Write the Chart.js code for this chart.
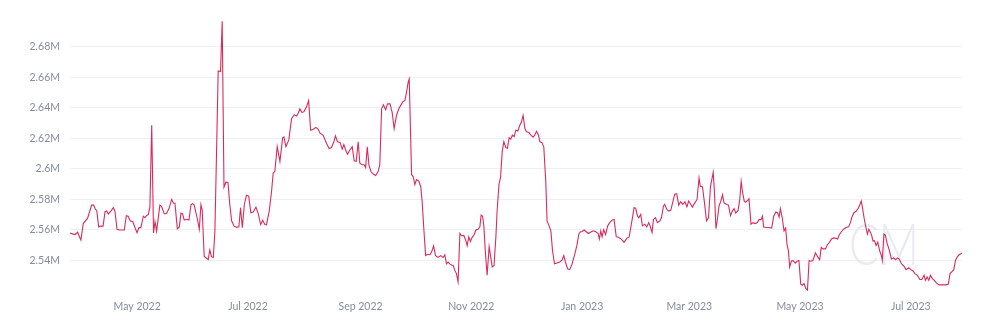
<!DOCTYPE html>
<html lang="en">
<head>
    <meta charset="UTF-8">
    <title>Line chart</title>
    <script src="https://cdn.jsdelivr.net/npm/chart.js"></script>
    <style>
        html, body { margin: 0; padding: 0; background: #fff; }
        #wrap { width: 981px; height: 331px; position: relative; }
    </style>
</head>
<body>
<div id="wrap"><canvas id="chart"></canvas></div>

<script>
    // days since 2022-03-25, values in millions
    const days = [
        0, 0.9, 2.75, 4.2, 5, 6, 7.3, 9.7, 11.9, 13, 14.1, 14.7, 15.8, 16.7, 18.2, 19.3, 20.2, 21.1, 22.6, 23.9,
        24.8, 25.9, 27.5, 29.9, 31, 32, 33.2, 34.5, 36.9, 38, 39, 40.4, 41.3, 42.2, 43.1, 44, 45, 46, 46.8, 47.7,
        49.5, 50.4, 51.9, 53.1, 54.5, 56, 57, 57.8, 59.1, 60.2, 61.1, 62, 62.9, 64.2, 65.5, 66.6, 67.5, 68.3, 70, 71.2,
        72.1, 72.8, 73.9, 75.2, 76.1, 77, 77.9, 78.9, 79.8, 80.7, 81.6, 82.9, 83.8, 84.8, 85.9, 87, 88, 89, 90.3, 91.8,
        93, 93.9, 94.9, 96, 97.2, 98.4, 99.6, 100.9, 102.4, 103.7, 105, 106.1, 107.3, 108.2, 109.7, 111, 111.9, 112.8, 114.1, 115.6,
        117.1, 117.8, 118.9, 120.5, 122, 123.5, 124.8, 125.7, 126.6, 127.7, 128.8, 130.2, 131.4, 132.5, 134, 135.4, 136.7, 137.6, 139.4, 141.3,
        142.7, 144, 145.3, 146.2, 147.3, 148.7, 149.9, 150.8, 151.9, 152.8, 154.1, 155.4, 156.5, 157.6, 158.7, 159.6, 160.9, 162, 162.8, 163.7,
        164.6, 165.7, 167, 168.3, 169.7, 170.6, 171.6, 172.6, 173.8, 174.9, 176.2, 177.4, 178.5, 179.8, 181.1, 182.2, 183.3, 184.4, 185.3, 186.2,
        186.8, 188.1, 189, 189.9, 190.8, 192.1, 193.2, 193.9, 194.8, 195.8, 196.9, 198.2, 199.1, 200.2, 201.3, 202.7, 204.1, 205.5, 206.4, 207.3,
        208.2, 209.1, 210.1, 211, 211.9, 212.8, 213.7, 214.7, 215.6, 216.9, 218, 218.7, 219.6, 220.5, 221.4, 222.6, 223.5, 224.8, 225.7, 226.4,
        227.2, 227.9, 228.8, 229.7, 230.8, 231.7, 232.5, 233.5, 234.5, 235.2, 236.2, 237.1, 238, 238.9, 240, 240.9, 241.8, 242.7, 243.6, 244.6,
        245.5, 246.6, 247.7, 248.6, 249.5, 250.5, 251.4, 252.7, 253.8, 255, 255.9, 256.9, 258, 258.7, 259.8, 260.9, 262, 262.7, 263.8, 264.8,
        265.7, 266.8, 268.2, 269.7, 271, 271.9, 272.8, 274, 275.2, 276.5, 278, 279.1, 280.2, 280.9, 282, 283.1, 284.2, 285.4, 286.8, 288.1,
        289.4, 290.8, 291.5, 292.3, 293, 293.9, 294.9, 296.1, 297.2, 298.5, 299.6, 300.8, 302.2, 303.6, 305.1, 306.6, 307.9, 308.8, 309.9, 310.6,
        311.5, 312.5, 313.2, 314.3, 315.2, 316.5, 317.6, 318.7, 319.6, 320.5, 321.3, 322.4, 323.5, 324.8, 325.7, 326.8, 327.5, 328.6, 329.7, 330.8,
        331.9, 333, 334.1, 335.2, 336.3, 337.4, 338.6, 339.7, 340.7, 341.8, 342.7, 344, 345.3, 346.4, 347.1, 348.3, 349.5, 350.5, 351.6, 352.7,
        354.2, 354.9, 355.7, 356.5, 357.4, 358.4, 359.3, 360.2, 361.5, 362.6, 363.7, 364.8, 365.7, 366.6, 367.9, 368.8, 369.6, 370.3, 371.3, 372.1,
        373.2, 373.9, 375, 376.1, 377.3, 378.5, 379.5, 380.6, 381.3, 382, 383.5, 384.9, 386.4, 387.5, 388.7, 389.7, 390.5, 391.2, 392.2, 393.2,
        394.1, 394.8, 395.6, 396.3, 397.2, 398.1, 399.4, 400.3, 401.4, 402.4, 403.3, 404.2, 405.2, 406.1, 407, 408, 409.1, 410.5, 411.9, 412.8,
        413.7, 414.6, 416, 417.1, 418.2, 419.3, 420.7, 422, 422.7, 423.6, 424.9, 426, 427.4, 428.7, 429.8, 430.6, 431.7, 433, 434.2, 435,
        435.7, 436.4, 437.4, 438.3, 439.1, 439.9, 440.8, 441.5, 442.2, 443, 443.9, 444.8, 445.9, 446.8, 447.3, 448.2, 449, 450, 451.2, 452.3,
        453.5, 454.6, 455.7, 456.6, 457.4, 458.2, 459.3, 460.4, 461.9, 463, 464.2, 465.3, 466.6, 468, 469.1, 470.3, 471.1, 472, 472.9, 473.8,
        474.9, 475.9, 477.1, 478.5, 480.4, 482.2, 483.7, 484.6, 485.4, 486.7, 487.6, 488.7, 489.7, 491.2
    ];
    const values = [
        2.558, 2.5576, 2.557, 2.5585, 2.556, 2.5534, 2.5642, 2.5677, 2.5763, 2.5763, 2.5733, 2.573, 2.562, 2.5625, 2.5625, 2.572, 2.5725, 2.5705, 2.5725, 2.5746,
        2.572, 2.5605, 2.560, 2.560, 2.5694, 2.569, 2.5659, 2.5655, 2.5582, 2.5615, 2.5615, 2.569, 2.568, 2.5695, 2.570, 2.575, 2.6286, 2.558, 2.5655, 2.5592,
        2.5763, 2.5755, 2.5706, 2.5706, 2.574, 2.580, 2.5775, 2.5775, 2.5607, 2.562, 2.571, 2.5705, 2.5665, 2.567, 2.5665, 2.5765, 2.5772, 2.5766, 2.568, 2.5605,
        2.5765, 2.573, 2.5426, 2.5415, 2.5405, 2.5469, 2.5425, 2.542, 2.5594, 2.6113, 2.6642, 2.6638, 2.6967, 2.588, 2.5914, 2.591, 2.5767, 2.566, 2.5625, 2.5617,
        2.562, 2.5746, 2.5614, 2.5767, 2.5828, 2.5822, 2.5713, 2.5717, 2.575, 2.5704, 2.5635, 2.5664, 2.5635, 2.5633, 2.5723, 2.5854, 2.5973, 2.5984, 2.6146, 2.6049,
        2.6204, 2.621, 2.6146, 2.619, 2.6329, 2.6355, 2.6346, 2.6366, 2.6394, 2.637, 2.6374, 2.6405, 2.6448, 2.6254, 2.626, 2.6272, 2.626, 2.6236, 2.622, 2.6167,
        2.6134, 2.614, 2.6178, 2.6217, 2.6178, 2.6174, 2.613, 2.616, 2.612, 2.6096, 2.6124, 2.6146, 2.6053, 2.605, 2.6178, 2.6037, 2.6027, 2.6027, 2.6009, 2.6145,
        2.6027, 2.5983, 2.5966, 2.5957, 2.5983, 2.6027, 2.6394, 2.642, 2.6388, 2.6426, 2.6426, 2.637, 2.6264, 2.635, 2.6396, 2.6418, 2.6441, 2.6448, 2.6502, 2.6567,
        2.6589, 2.5962, 2.595, 2.5897, 2.593, 2.592, 2.588, 2.5789, 2.5616, 2.5432, 2.544, 2.5438, 2.5455, 2.5495, 2.5432, 2.542, 2.5432, 2.542, 2.5438, 2.5378,
        2.5389, 2.5378, 2.537, 2.5367, 2.5335, 2.5314, 2.526, 2.5577, 2.5562, 2.5564, 2.553, 2.5497, 2.5555, 2.5525, 2.555, 2.557, 2.560, 2.5606, 2.562, 2.5698,
        2.569, 2.5625, 2.5443, 2.5303, 2.5491, 2.5422, 2.5357, 2.5367, 2.5551, 2.5724, 2.5897, 2.5944, 2.6113, 2.6178, 2.6139, 2.6135, 2.6204, 2.6195, 2.6221, 2.6212,
        2.6254, 2.6249, 2.6286, 2.6307, 2.6351, 2.6264, 2.6243, 2.6238, 2.6221, 2.6208, 2.6221, 2.6247, 2.6221, 2.6178, 2.6174, 2.6145, 2.5918, 2.5659, 2.5627, 2.5594,
        2.5465, 2.5378, 2.5383, 2.539, 2.5404, 2.5432, 2.539, 2.5346, 2.534, 2.5378, 2.5443, 2.5497, 2.5573, 2.5587, 2.559, 2.560, 2.559, 2.5577, 2.5587, 2.5594,
        2.559, 2.5577, 2.5541, 2.5594, 2.5555, 2.5602, 2.557, 2.5627, 2.5648, 2.5664, 2.5669, 2.5556, 2.555, 2.554, 2.5519, 2.5545, 2.5554, 2.5616, 2.5692, 2.5746,
        2.5742, 2.5692, 2.568, 2.5702, 2.5627, 2.5638, 2.562, 2.5648, 2.562, 2.5584, 2.5669, 2.568, 2.5648, 2.5659, 2.568, 2.5757, 2.5768, 2.5736, 2.5724, 2.5729,
        2.578, 2.5834, 2.5838, 2.5763, 2.5785, 2.5768, 2.5785, 2.5752, 2.5789, 2.5768, 2.575, 2.5776, 2.580, 2.594, 2.5886, 2.5882, 2.5768, 2.5659, 2.568, 2.5886,
        2.5977, 2.5843, 2.5609, 2.567, 2.5757, 2.5789, 2.5831, 2.5776, 2.5768, 2.5763, 2.5694, 2.5725, 2.574, 2.5711, 2.5728, 2.5798, 2.5918, 2.5852, 2.5787, 2.5783,
        2.5794, 2.5805, 2.5638, 2.5648, 2.5642, 2.5648, 2.5669, 2.5667, 2.569, 2.5619, 2.5616, 2.5616, 2.5612, 2.569, 2.5717, 2.5711, 2.5685, 2.5739, 2.568, 2.5594,
        2.5612, 2.5508, 2.5465, 2.5357, 2.5395, 2.54, 2.5383, 2.5395, 2.54, 2.5244, 2.5238, 2.5249, 2.5217, 2.5206, 2.54, 2.5395, 2.54, 2.545, 2.542, 2.5405,
        2.5486, 2.5476, 2.5476, 2.5503, 2.5519, 2.5541, 2.5548, 2.5546, 2.554, 2.5569, 2.559, 2.5605, 2.5616, 2.562, 2.5648, 2.5685, 2.5713, 2.5724, 2.5745, 2.5767,
        2.5789, 2.5745, 2.567, 2.5616, 2.5573, 2.5605, 2.5584, 2.5562, 2.5527, 2.553, 2.5498, 2.552, 2.5462, 2.5433, 2.54, 2.5573, 2.5566, 2.551, 2.5466, 2.541,
        2.5417, 2.5405, 2.5417, 2.541, 2.5388, 2.5374, 2.5361, 2.534, 2.5352, 2.534, 2.5331, 2.5314, 2.5303, 2.5275, 2.5275, 2.5303, 2.527, 2.5292, 2.527, 2.5303,
        2.5281, 2.527, 2.5253, 2.524, 2.524, 2.524, 2.5246, 2.5314, 2.5324, 2.534, 2.54, 2.5426, 2.5439, 2.5448
    ];

    // x tick positions (day index of the 1st of the month) and their labels
    const tickDays = [37, 98, 160, 221, 282, 341, 402, 463];
    const tickLabels = ['May 2022', 'Jul 2022', 'Sep 2022', 'Nov 2022', 'Jan 2023', 'Mar 2023', 'May 2023', 'Jul 2023'];
    const yTicks = [2.54, 2.56, 2.58, 2.6, 2.62, 2.64, 2.66, 2.68];

    const textColor = '#858c9f';
    const points = days.map((d, i) => ({ x: d, y: values[i] }));

    // faint "CM" logo behind the line
    const watermark = {
        id: 'watermark',
        beforeDatasetsDraw(chart) {
            const c = chart.ctx;
            c.save();
            c.fillStyle = '#e8ebf3';
            c.font = '300 58px Lato';
            c.textBaseline = 'alphabetic';
            c.fillText('CM', 849, 265, 70);
            c.restore();
        }
    };

    new Chart(document.getElementById('chart'), {
        type: 'line',
        data: {
            datasets: [{
                data: points,
                borderColor: '#dd2a5b',
                borderWidth: 1.1,
                pointRadius: 0,
                tension: 0,
                fill: false
            }]
        },
        options: {
            responsive: true,
            maintainAspectRatio: false,
            animation: false,
            layout: { padding: { left: 0, right: 19, top: 13, bottom: 0 } },
            plugins: { legend: { display: false }, tooltip: { enabled: false } },
            scales: {
                x: {
                    type: 'linear',
                    min: 0,
                    max: 491.2,
                    grid: { display: false, drawTicks: false },
                    border: { display: false },
                    afterBuildTicks: s => { s.ticks = tickDays.map(v => ({ value: v })); },
                    afterFit: s => { s.height = 40; },
                    ticks: {
                        autoSkip: false,
                        maxRotation: 0,
                        padding: 9,
                        color: textColor,
                        font: { family: 'Lato', size: 10.5 },
                        callback: (v, i) => tickLabels[i]
                    }
                },
                y: {
                    min: 2.52,
                    max: 2.70,
                    grid: { color: '#eef0f4', lineWidth: 1, drawTicks: false },
                    border: { display: false },
                    afterBuildTicks: s => { s.ticks = yTicks.map(v => ({ value: v })); },
                    afterFit: s => { s.width = 70; },
                    ticks: {
                        padding: 10,
                        color: textColor,
                        font: { family: 'Lato', size: 10.5 },
                        callback: v => v + 'M'
                    }
                }
            }
        },
        plugins: [watermark]
    });
</script>
</body>
</html>
